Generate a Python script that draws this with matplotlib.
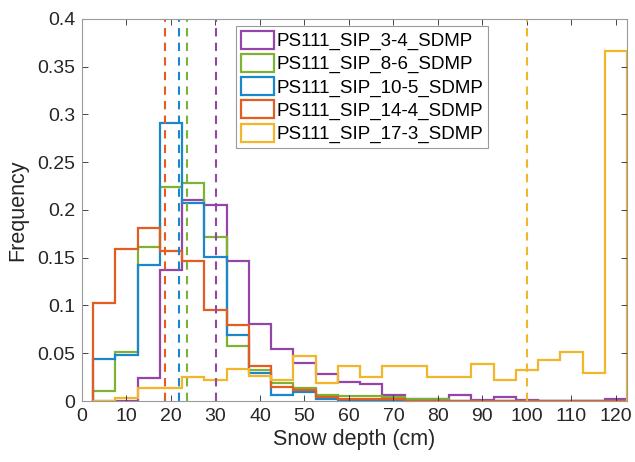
import matplotlib
matplotlib.use("Agg")
import matplotlib.pyplot as plt
from matplotlib.patches import Patch
import numpy as np

plt.rcParams['font.family'] = ['Liberation Sans', 'DejaVu Sans']

# 5 cm bins, edges 2.5 ... 122.5
bin_edges = np.arange(2.5, 123, 5)

labels = ['PS111_SIP_3-4_SDMP', 'PS111_SIP_8-6_SDMP', 'PS111_SIP_10-5_SDMP',
          'PS111_SIP_14-4_SDMP', 'PS111_SIP_17-3_SDMP']
colors = ['#9346A8', '#7DB233', '#1A86CC', '#E35D20', '#F2B62A']

freq_3_4 = [0, 0, 0.0245, 0.137, 0.210, 0.2057, 0.1465, 0.081, 0.054, 0.040,
            0.028, 0.020, 0.018, 0.006, 0.002, 0.002, 0.006, 0.001, 0.0045,
            0.001, 0, 0, 0, 0.002]
freq_8_6 = [0.010, 0.051, 0.161, 0.224, 0.228, 0.1716, 0.058, 0.032, 0.0185,
            0.014, 0.006, 0.005, 0.005, 0.004, 0.002, 0.002, 0, 0, 0, 0, 0, 0,
            0, 0]
freq_10_5 = [0.0435, 0.048, 0.142, 0.291, 0.207, 0.151, 0.069, 0.029, 0.006,
             0.009, 0.002, 0.001, 0, 0.001, 0, 0, 0, 0, 0, 0, 0, 0, 0, 0]
freq_14_4 = [0.103, 0.159, 0.181, 0.157, 0.1465, 0.0957, 0.080, 0.0365, 0.015,
             0.0115, 0.004, 0.002, 0.002, 0.002, 0, 0, 0, 0, 0, 0, 0, 0, 0, 0]
freq_17_3 = [0, 0.0028, 0.0135, 0.0135, 0.025, 0.022, 0.033, 0.026, 0.022,
             0.047, 0.0185, 0.0365, 0.025, 0.0365, 0.0365, 0.025, 0.025, 0.039,
             0.022, 0.0324, 0.043, 0.0508, 0.029, 0.366]
series = [freq_3_4, freq_8_6, freq_10_5, freq_14_4, freq_17_3]

# mean snow depth of each site (cm)
means = [30.2, 23.6, 21.8, 18.7, 100.0]

yticks = [0, 0.05, 0.1, 0.15, 0.2, 0.25, 0.3, 0.35, 0.4]
ytick_labels = ['0', '0.05', '0.1', '0.15', '0.2', '0.25', '0.3', '0.35', '0.4']
xticks = list(range(0, 121, 10))

fig = plt.figure(figsize=(6.35, 4.62), dpi=100)
ax = fig.add_axes([0.1291, 0.132, 0.8583, 0.827])

for vals, c in zip(series, colors):
    ax.stairs(vals, bin_edges, baseline=0, color=c, linewidth=1.6)

for m, c in zip(means, colors):
    ax.axvline(m, color=c, linestyle=(0, (4, 3)), linewidth=1.5)

ax.set_xlim(0, 122.5)
ax.set_ylim(0, 0.4)
ax.set_xticks(xticks)
ax.set_yticks(yticks)
ax.set_yticklabels(ytick_labels)
ax.tick_params(direction='in', length=4, width=0.6, top=True, right=True,
               labelsize=14, colors='#262626', pad=5)
for sp in ax.spines.values():
    sp.set_color('#9a9a9a')
    sp.set_linewidth(0.8)

ax.set_xlabel('Snow depth (cm)', fontsize=15.5, color='#262626', labelpad=3)
ax.set_ylabel('Frequency', fontsize=15.5, color='#262626', labelpad=6)

handles = [Patch(facecolor='none', edgecolor=c, linewidth=1.6) for c in colors]
leg = ax.legend(handles, labels, loc='upper left', bbox_to_anchor=(0.283, 0.982),
                fontsize=13.5, frameon=True, fancybox=False, framealpha=1,
                edgecolor='#9a9a9a', handlelength=1.75, handleheight=1.1,
                handletextpad=0.15, labelspacing=0.2, borderpad=0.25,
                borderaxespad=0)
leg.get_frame().set_linewidth(0.8)

fig.savefig('out.png', dpi=100)
